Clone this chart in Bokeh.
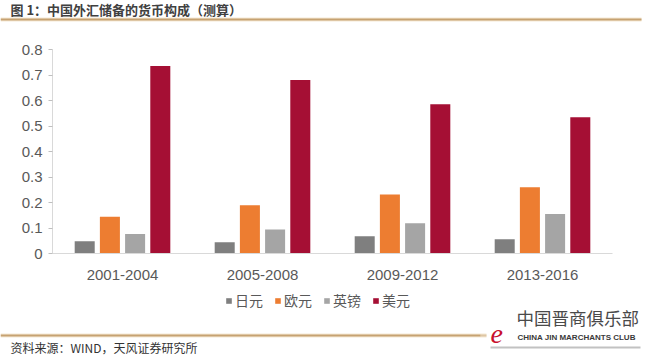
from bokeh.plotting import figure
from bokeh.models import (ColumnDataSource, Range1d, Label, Legend, LegendItem, BoxAnnotation,
                          FixedTicker, CustomJSTickFormatter, LinearAxis)
from bokeh.embed import file_html
from bokeh.resources import INLINE

categories = ["2001-2004", "2005-2008", "2009-2012", "2013-2016"]
series_names = ["日元", "欧元", "英镑", "美元"]
jpy = [0.048, 0.044, 0.068, 0.056]
eur = [0.144, 0.189, 0.231, 0.260]
gbp = [0.076, 0.094, 0.119, 0.155]
usd = [0.735, 0.680, 0.585, 0.534]
y_ticks = [0, 0.1, 0.2, 0.3, 0.4, 0.5, 0.6, 0.7, 0.8]

title_text = "图 1：中国外汇储备的货币构成（测算）"
source_text = "资料来源：WIND，天风证券研究所"
logo_cn = "中国晋商俱乐部"
logo_en = "CHINA JIN MARCHANTS CLUB"

colors = ["#7f7f7f", "#ed7d31", "#a5a5a5", "#a50f34"]
offsets = [-0.27, -0.09, 0.09, 0.27]

W, H = 645, 355
# plot area geometry (pixels): axis origin at (52, 253), 140 px per category, 255 px per unit
X0, Y0, PX_CAT, PX_UNIT = 52, 253, 140.0, 255.0

centers = [i + 0.5 for i in range(len(categories))]
src = dict(jpy=jpy, eur=eur, gbp=gbp, usd=usd)

p = figure(width=W, height=H,
           x_range=Range1d(-X0 / PX_CAT, (W - X0) / PX_CAT),
           y_range=Range1d((Y0 - H) / PX_UNIT, Y0 / PX_UNIT),
           x_axis_location=None, y_axis_location=None, title=None,
           output_backend="svg", toolbar_location=None,
           min_border_left=0, min_border_right=0, min_border_top=0, min_border_bottom=0)
p.outline_line_color = None
p.background_fill_color = "white"
p.border_fill_color = "white"
p.xgrid.grid_line_color = None
p.ygrid.grid_line_color = None

renderers = []
for key, c, off in zip(["jpy", "eur", "gbp", "usd"], colors, offsets):
    cds = ColumnDataSource(dict(x=[cx + off for cx in centers], top=src[key], cat=categories))
    r = p.vbar(x="x", top="top", width=0.143, source=cds, fill_color=c, line_color=None)
    renderers.append(r)

ya = LinearAxis(fixed_location=0, bounds=(0, 0.8), ticker=FixedTicker(ticks=y_ticks),
                formatter=CustomJSTickFormatter(code="return tick.toFixed(1).replace(/\\.0$/, '');"))
ya.axis_line_color = "#d9d9d9"
ya.major_tick_line_color = "#bfbfbf"
ya.major_tick_out = 4
ya.major_tick_in = 0
ya.minor_tick_line_color = None
ya.major_label_text_font = "Liberation Sans"
ya.major_label_text_font_size = "15px"
ya.major_label_text_color = "#595959"
ya.major_label_standoff = 6
p.add_layout(ya, "left")

xa = LinearAxis(fixed_location=0, bounds=(0, len(categories)), ticker=FixedTicker(ticks=centers),
                formatter=CustomJSTickFormatter(args=dict(cats=categories),
                                                code="return cats[Math.round(tick - 0.5)];"))
xa.axis_line_color = "#d9d9d9"
xa.major_tick_line_color = None
xa.minor_tick_line_color = None
xa.major_label_text_font = "Liberation Sans"
xa.major_label_text_font_size = "15px"
xa.major_label_text_color = "#595959"
xa.major_label_standoff = 10
p.add_layout(xa, "below")

legend = Legend(items=[LegendItem(label=n, renderers=[r]) for n, r in zip(series_names, renderers)],
                orientation="horizontal", location=(225, H - 310),
                glyph_width=7, glyph_height=7, label_standoff=3, spacing=11,
                label_text_font="Noto Sans CJK SC", label_text_font_size="14px",
                label_text_color="#595959", label_height=14, label_width=20,
                padding=0, margin=0, border_line_color=None, background_fill_alpha=0)
p.add_layout(legend, "center")


def box(left, right, top_px, bottom_px, color, alpha=1.0):
    p.add_layout(BoxAnnotation(left=left, right=right, top=H - top_px, bottom=H - bottom_px,
                               left_units="screen", right_units="screen",
                               top_units="screen", bottom_units="screen",
                               fill_color=color, fill_alpha=alpha, line_color=None, level="overlay"))


def label(x, y_px, text, font, size, color, style="normal", baseline="middle"):
    p.add_layout(Label(x=x, y=H - y_px, x_units="screen", y_units="screen", text=text,
                       text_font=font, text_font_size=size, text_color=color,
                       text_font_style=style, text_baseline=baseline, text_align="left"))


# header
label(10, 9, title_text, "Noto Sans CJK SC", "13px", "#404040", style="bold")
box(0, 641, 17, 21, "#f6ead6")
box(0, 641, 18, 20, "#c6a272")

# footer
box(0, 486, 333, 337, "#f6ead6")
box(0, 480, 334, 336, "#c6a272")
box(480, 486, 334, 336, "#c6a272", 0.5)
label(10, 347, source_text, "Noto Sans CJK SC", "12px", "#333333")

# watermark logo
box(490, 640, 346, 348, "#9a9a9a", 0.6)
label(490, 333, "e", "Liberation Serif", "28px", "#c8102e", style="italic")
label(516, 317, logo_cn, "Noto Sans CJK SC", "17.5px", "#4a4a4a")
label(517, 337, logo_en, "Liberation Sans", "8px", "#3a3a3a", style="bold")

open("out.html", "w").write(file_html(p, INLINE))
